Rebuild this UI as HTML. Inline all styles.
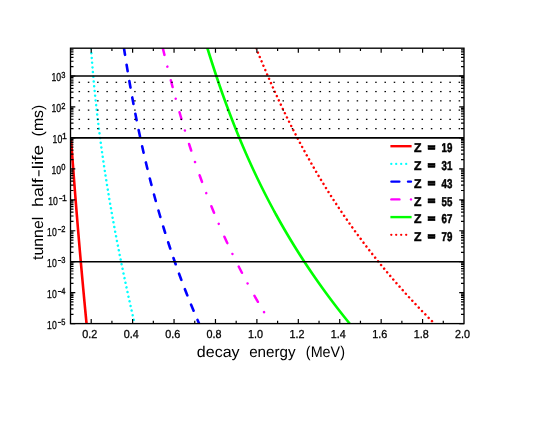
<!DOCTYPE html><html><head><meta charset="utf-8"><style>html,body{margin:0;padding:0;background:#fff}svg{display:block}text{font-family:"Liberation Sans",sans-serif;fill:#000;text-rendering:geometricPrecision}.t{filter:grayscale(1)}</style></head><body>
<svg width="550" height="425" viewBox="0 0 550 425">
<rect width="550" height="425" fill="#fff"/>
<defs><clipPath id="c"><rect x="70.5" y="48.2" width="393.5" height="275.40000000000003"/></clipPath></defs>
<g clip-path="url(#c)" fill="none" stroke-linejoin="round">
<path d="M71.08,139.5 L71.15,140.5 L71.22,141.5 L71.29,142.5 L71.36,143.5 L71.44,144.5 L71.51,145.5 L71.58,146.5 L71.65,147.5 L71.72,148.5 L71.79,149.5 L71.87,150.5 L71.94,151.5 L72.01,152.5 L72.09,153.5 L72.16,154.5 L72.23,155.5 L72.30,156.5 L72.38,157.5 L72.45,158.5 L72.52,159.5 L72.60,160.5 L72.67,161.5 L72.75,162.5 L72.82,163.5 L72.90,164.5 L72.97,165.5 L73.04,166.5 L73.12,167.5 L73.19,168.5 L73.27,169.5 L73.34,170.5 L73.42,171.5 L73.50,172.5 L73.57,173.5 L73.65,174.5 L73.72,175.5 L73.80,176.5 L73.88,177.5 L73.95,178.5 L74.03,179.5 L74.10,180.5 L74.18,181.5 L74.26,182.5 L74.34,183.5 L74.41,184.5 L74.49,185.5 L74.57,186.5 L74.65,187.5 L74.72,188.5 L74.80,189.5 L74.88,190.5 L74.96,191.5 L75.04,192.5 L75.11,193.5 L75.19,194.5 L75.27,195.5 L75.35,196.5 L75.43,197.5 L75.51,198.5 L75.59,199.5 L75.67,200.5 L75.75,201.5 L75.83,202.5 L75.91,203.5 L75.99,204.5 L76.07,205.5 L76.15,206.5 L76.23,207.5 L76.31,208.5 L76.39,209.5 L76.47,210.5 L76.55,211.5 L76.63,212.5 L76.71,213.5 L76.80,214.5 L76.88,215.5 L76.96,216.5 L77.04,217.5 L77.12,218.5 L77.21,219.5 L77.29,220.5 L77.37,221.5 L77.45,222.5 L77.54,223.5 L77.62,224.5 L77.70,225.5 L77.78,226.5 L77.87,227.5 L77.95,228.5 L78.04,229.5 L78.12,230.5 L78.20,231.5 L78.29,232.5 L78.37,233.5 L78.46,234.5 L78.54,235.5 L78.62,236.5 L78.71,237.5 L78.79,238.5 L78.88,239.5 L78.96,240.5 L79.05,241.5 L79.14,242.5 L79.22,243.5 L79.31,244.5 L79.39,245.5 L79.48,246.5 L79.57,247.5 L79.65,248.5 L79.74,249.5 L79.82,250.5 L79.91,251.5 L80.00,252.5 L80.09,253.5 L80.17,254.5 L80.26,255.5 L80.35,256.5 L80.44,257.5 L80.52,258.5 L80.61,259.5 L80.70,260.5 L80.79,261.5 L80.88,262.5 L80.96,263.5 L81.05,264.5 L81.14,265.5 L81.23,266.5 L81.32,267.5 L81.41,268.5 L81.50,269.5 L81.59,270.5 L81.68,271.5 L81.77,272.5 L81.86,273.5 L81.95,274.5 L82.04,275.5 L82.13,276.5 L82.22,277.5 L82.31,278.5 L82.40,279.5 L82.49,280.5 L82.58,281.5 L82.67,282.5 L82.76,283.5 L82.86,284.5 L82.95,285.5 L83.04,286.5 L83.13,287.5 L83.22,288.5 L83.32,289.5 L83.41,290.5 L83.50,291.5 L83.59,292.5 L83.69,293.5 L83.78,294.5 L83.87,295.5 L83.96,296.5 L84.06,297.5 L84.15,298.5 L84.25,299.5 L84.34,300.5 L84.43,301.5 L84.53,302.5 L84.62,303.5 L84.72,304.5 L84.81,305.5 L84.90,306.5 L85.00,307.5 L85.09,308.5 L85.19,309.5 L85.28,310.5 L85.38,311.5 L85.48,312.5 L85.57,313.5 L85.67,314.5 L85.76,315.5 L85.86,316.5 L85.96,317.5 L86.05,318.5 L86.15,319.5 L86.24,320.5 L86.34,321.5 L86.44,322.5 L86.54,323.5 L86.63,324.5 L86.73,325.5 L86.83,326.5 L86.93,327.5 L87.02,328.5 L87.12,329.5 L87.22,330.5 L87.32,331.5 L87.42,332.5 L87.51,333.5 L87.61,334.5 L87.71,335.5" stroke="#ff0000" stroke-width="2.6"/>
<path d="M89.92,30.0 L89.98,31.0 L90.04,32.0 L90.09,33.0 L90.15,34.0 L90.21,35.0 L90.27,36.0 L90.32,37.0 L90.39,38.0 L90.45,39.0 L90.51,40.0 L90.57,41.0 L90.63,42.0 L90.70,43.0 L90.76,44.0 L90.83,45.0 L90.89,46.0 L90.96,47.0 L91.03,48.0 L91.10,49.0 L91.17,50.0 L91.24,51.0 L91.31,52.0 L91.38,53.0 L91.45,54.0 L91.53,55.0 L91.60,56.0 L91.68,57.0 L91.75,58.0 L91.83,59.0 L91.90,60.0 L91.98,61.0 L92.06,62.0 L92.14,63.0 L92.22,64.0 L92.30,65.0 L92.38,66.0 L92.46,67.0 L92.55,68.0 L92.63,69.0 L92.71,70.0 L92.80,71.0 L92.89,72.0 L92.97,73.0 L93.06,74.0 L93.15,75.0 L93.24,76.0 L93.33,77.0 L93.42,78.0 L93.51,79.0 L93.60,80.0 L93.69,81.0 L93.78,82.0 L93.88,83.0 L93.97,84.0 L94.07,85.0 L94.16,86.0 L94.26,87.0 L94.36,88.0 L94.46,89.0 L94.56,90.0 L94.65,91.0 L94.76,92.0 L94.86,93.0 L94.96,94.0 L95.06,95.0 L95.16,96.0 L95.27,97.0 L95.37,98.0 L95.48,99.0 L95.58,100.0 L95.69,101.0 L95.80,102.0 L95.90,103.0 L96.01,104.0 L96.12,105.0 L96.23,106.0 L96.34,107.0 L96.46,108.0 L96.57,109.0 L96.68,110.0 L96.79,111.0 L96.91,112.0 L97.02,113.0 L97.14,114.0 L97.26,115.0 L97.37,116.0 L97.49,117.0 L97.61,118.0 L97.73,119.0 L97.85,120.0 L97.97,121.0 L98.09,122.0 L98.21,123.0 L98.33,124.0 L98.46,125.0 L98.58,126.0 L98.70,127.0 L98.83,128.0 L98.95,129.0 L99.08,130.0 L99.21,131.0 L99.34,132.0 L99.46,133.0 L99.59,134.0 L99.72,135.0 L99.85,136.0 L99.98,137.0 L100.12,138.0 L100.25,139.0 L100.38,140.0 L100.51,141.0 L100.65,142.0 L100.78,143.0 L100.92,144.0 L101.06,145.0 L101.19,146.0 L101.33,147.0 L101.47,148.0 L101.61,149.0 L101.75,150.0 L101.89,151.0 L102.03,152.0 L102.17,153.0 L102.31,154.0 L102.45,155.0 L102.60,156.0 L102.74,157.0 L102.88,158.0 L103.03,159.0 L103.18,160.0 L103.32,161.0 L103.47,162.0 L103.62,163.0 L103.76,164.0 L103.91,165.0 L104.06,166.0 L104.21,167.0 L104.36,168.0 L104.52,169.0 L104.67,170.0 L104.82,171.0 L104.97,172.0 L105.13,173.0 L105.28,174.0 L105.44,175.0 L105.59,176.0 L105.75,177.0 L105.91,178.0 L106.06,179.0 L106.22,180.0 L106.38,181.0 L106.54,182.0 L106.70,183.0 L106.86,184.0 L107.02,185.0 L107.18,186.0 L107.35,187.0 L107.51,188.0 L107.67,189.0 L107.84,190.0 L108.00,191.0 L108.17,192.0 L108.33,193.0 L108.50,194.0 L108.67,195.0 L108.83,196.0 L109.00,197.0 L109.17,198.0 L109.34,199.0 L109.51,200.0 L109.68,201.0 L109.85,202.0 L110.02,203.0 L110.20,204.0 L110.37,205.0 L110.54,206.0 L110.72,207.0 L110.89,208.0 L111.07,209.0 L111.24,210.0 L111.42,211.0 L111.59,212.0 L111.77,213.0 L111.95,214.0 L112.13,215.0 L112.31,216.0 L112.49,217.0 L112.67,218.0 L112.85,219.0 L113.03,220.0 L113.21,221.0 L113.39,222.0 L113.58,223.0 L113.76,224.0 L113.95,225.0 L114.13,226.0 L114.32,227.0 L114.50,228.0 L114.69,229.0 L114.87,230.0 L115.06,231.0 L115.25,232.0 L115.44,233.0 L115.63,234.0 L115.82,235.0 L116.01,236.0 L116.20,237.0 L116.39,238.0 L116.58,239.0 L116.77,240.0 L116.97,241.0 L117.16,242.0 L117.35,243.0 L117.55,244.0 L117.74,245.0 L117.94,246.0 L118.13,247.0 L118.33,248.0 L118.53,249.0 L118.73,250.0 L118.92,251.0 L119.12,252.0 L119.32,253.0 L119.52,254.0 L119.72,255.0 L119.92,256.0 L120.12,257.0 L120.32,258.0 L120.53,259.0 L120.73,260.0 L120.93,261.0 L121.14,262.0 L121.34,263.0 L121.55,264.0 L121.75,265.0 L121.96,266.0 L122.16,267.0 L122.37,268.0 L122.58,269.0 L122.79,270.0 L122.99,271.0 L123.20,272.0 L123.41,273.0 L123.62,274.0 L123.83,275.0 L124.04,276.0 L124.25,277.0 L124.47,278.0 L124.68,279.0 L124.89,280.0 L125.10,281.0 L125.32,282.0 L125.53,283.0 L125.75,284.0 L125.96,285.0 L126.18,286.0 L126.39,287.0 L126.61,288.0 L126.83,289.0 L127.04,290.0 L127.26,291.0 L127.48,292.0 L127.70,293.0 L127.92,294.0 L128.14,295.0 L128.36,296.0 L128.58,297.0 L128.80,298.0 L129.02,299.0 L129.25,300.0 L129.47,301.0 L129.69,302.0 L129.92,303.0 L130.14,304.0 L130.36,305.0 L130.59,306.0 L130.81,307.0 L131.04,308.0 L131.27,309.0 L131.49,310.0 L131.72,311.0 L131.95,312.0 L132.18,313.0 L132.40,314.0 L132.63,315.0 L132.86,316.0 L133.09,317.0 L133.32,318.0 L133.55,319.0 L133.79,320.0 L134.02,321.0 L134.25,322.0 L134.48,323.0 L134.72,324.0 L134.95,325.0 L135.18,326.0 L135.42,327.0 L135.65,328.0 L135.89,329.0 L136.12,330.0 L136.36,331.0 L136.59,332.0 L136.83,333.0 L137.07,334.0 L137.31,335.0" stroke="#00ffff" stroke-width="2.5" stroke-linecap="round" stroke-dasharray="0.01 4.73" stroke-dashoffset="-4.29"/>
<path d="M121.26,30.0 L121.40,31.0 L121.55,32.0 L121.70,33.0 L121.84,34.0 L121.99,35.0 L122.14,36.0 L122.29,37.0 L122.43,38.0 L122.58,39.0 L122.73,40.0 L122.88,41.0 L123.03,42.0 L123.18,43.0 L123.34,44.0 L123.49,45.0 L123.64,46.0 L123.79,47.0 L123.95,48.0 L124.10,49.0 L124.26,50.0 L124.41,51.0 L124.57,52.0 L124.72,53.0 L124.88,54.0 L125.04,55.0 L125.19,56.0 L125.35,57.0 L125.51,58.0 L125.67,59.0 L125.83,60.0 L125.99,61.0 L126.15,62.0 L126.31,63.0 L126.48,64.0 L126.64,65.0 L126.80,66.0 L126.97,67.0 L127.13,68.0 L127.30,69.0 L127.46,70.0 L127.63,71.0 L127.80,72.0 L127.96,73.0 L128.13,74.0 L128.30,75.0 L128.47,76.0 L128.64,77.0 L128.81,78.0 L128.98,79.0 L129.15,80.0 L129.33,81.0 L129.50,82.0 L129.67,83.0 L129.85,84.0 L130.02,85.0 L130.20,86.0 L130.38,87.0 L130.55,88.0 L130.73,89.0 L130.91,90.0 L131.09,91.0 L131.27,92.0 L131.45,93.0 L131.63,94.0 L131.81,95.0 L132.00,96.0 L132.18,97.0 L132.36,98.0 L132.55,99.0 L132.73,100.0 L132.92,101.0 L133.11,102.0 L133.29,103.0 L133.48,104.0 L133.67,105.0 L133.86,106.0 L134.05,107.0 L134.24,108.0 L134.43,109.0 L134.63,110.0 L134.82,111.0 L135.01,112.0 L135.21,113.0 L135.41,114.0 L135.60,115.0 L135.80,116.0 L136.00,117.0 L136.20,118.0 L136.40,119.0 L136.60,120.0 L136.80,121.0 L137.00,122.0 L137.20,123.0 L137.41,124.0 L137.61,125.0 L137.81,126.0 L138.02,127.0 L138.23,128.0 L138.44,129.0 L138.64,130.0 L138.85,131.0 L139.06,132.0 L139.27,133.0 L139.49,134.0 L139.70,135.0 L139.91,136.0 L140.13,137.0 L140.34,138.0 L140.56,139.0 L140.77,140.0 L140.99,141.0 L141.21,142.0 L141.43,143.0 L141.65,144.0 L141.87,145.0 L142.09,146.0 L142.32,147.0 L142.54,148.0 L142.77,149.0 L142.99,150.0 L143.22,151.0 L143.45,152.0 L143.67,153.0 L143.90,154.0 L144.13,155.0 L144.36,156.0 L144.60,157.0 L144.83,158.0 L145.06,159.0 L145.30,160.0 L145.53,161.0 L145.77,162.0 L146.01,163.0 L146.25,164.0 L146.49,165.0 L146.73,166.0 L146.97,167.0 L147.21,168.0 L147.45,169.0 L147.70,170.0 L147.94,171.0 L148.19,172.0 L148.44,173.0 L148.69,174.0 L148.94,175.0 L149.19,176.0 L149.44,177.0 L149.69,178.0 L149.94,179.0 L150.20,180.0 L150.45,181.0 L150.71,182.0 L150.97,183.0 L151.23,184.0 L151.49,185.0 L151.75,186.0 L152.01,187.0 L152.27,188.0 L152.53,189.0 L152.80,190.0 L153.06,191.0 L153.33,192.0 L153.60,193.0 L153.87,194.0 L154.14,195.0 L154.41,196.0 L154.68,197.0 L154.95,198.0 L155.23,199.0 L155.50,200.0 L155.78,201.0 L156.06,202.0 L156.34,203.0 L156.62,204.0 L156.90,205.0 L157.18,206.0 L157.46,207.0 L157.75,208.0 L158.03,209.0 L158.32,210.0 L158.61,211.0 L158.89,212.0 L159.18,213.0 L159.48,214.0 L159.77,215.0 L160.06,216.0 L160.36,217.0 L160.65,218.0 L160.95,219.0 L161.25,220.0 L161.54,221.0 L161.84,222.0 L162.15,223.0 L162.45,224.0 L162.75,225.0 L163.06,226.0 L163.36,227.0 L163.67,228.0 L163.98,229.0 L164.29,230.0 L164.60,231.0 L164.91,232.0 L165.23,233.0 L165.54,234.0 L165.86,235.0 L166.17,236.0 L166.49,237.0 L166.81,238.0 L167.13,239.0 L167.45,240.0 L167.78,241.0 L168.10,242.0 L168.43,243.0 L168.75,244.0 L169.08,245.0 L169.41,246.0 L169.74,247.0 L170.07,248.0 L170.41,249.0 L170.74,250.0 L171.08,251.0 L171.41,252.0 L171.75,253.0 L172.09,254.0 L172.43,255.0 L172.78,256.0 L173.12,257.0 L173.46,258.0 L173.81,259.0 L174.16,260.0 L174.51,261.0 L174.86,262.0 L175.21,263.0 L175.56,264.0 L175.92,265.0 L176.27,266.0 L176.63,267.0 L176.99,268.0 L177.35,269.0 L177.71,270.0 L178.07,271.0 L178.43,272.0 L178.80,273.0 L179.16,274.0 L179.53,275.0 L179.90,276.0 L180.27,277.0 L180.64,278.0 L181.01,279.0 L181.39,280.0 L181.77,281.0 L182.14,282.0 L182.52,283.0 L182.90,284.0 L183.28,285.0 L183.67,286.0 L184.05,287.0 L184.44,288.0 L184.82,289.0 L185.21,290.0 L185.60,291.0 L185.99,292.0 L186.39,293.0 L186.78,294.0 L187.18,295.0 L187.57,296.0 L187.97,297.0 L188.37,298.0 L188.77,299.0 L189.18,300.0 L189.58,301.0 L189.99,302.0 L190.40,303.0 L190.80,304.0 L191.22,305.0 L191.63,306.0 L192.04,307.0 L192.46,308.0 L192.87,309.0 L193.29,310.0 L193.71,311.0 L194.13,312.0 L194.55,313.0 L194.98,314.0 L195.40,315.0 L195.83,316.0 L196.26,317.0 L196.69,318.0 L197.12,319.0 L197.55,320.0 L197.99,321.0 L198.42,322.0 L198.86,323.0 L199.30,324.0 L199.74,325.0 L200.18,326.0 L200.63,327.0 L201.07,328.0 L201.52,329.0 L201.97,330.0 L202.42,331.0 L202.87,332.0 L203.33,333.0 L203.78,334.0 L204.24,335.0" stroke="#0000ff" stroke-width="2.6" stroke-linecap="round" stroke-dasharray="6.6 10.0" stroke-dashoffset="-1.91"/>
<path d="M158.55,30.0 L158.78,31.0 L159.01,32.0 L159.25,33.0 L159.48,34.0 L159.71,35.0 L159.95,36.0 L160.18,37.0 L160.42,38.0 L160.65,39.0 L160.89,40.0 L161.12,41.0 L161.36,42.0 L161.60,43.0 L161.83,44.0 L162.07,45.0 L162.31,46.0 L162.55,47.0 L162.79,48.0 L163.03,49.0 L163.27,50.0 L163.51,51.0 L163.75,52.0 L163.99,53.0 L164.24,54.0 L164.48,55.0 L164.72,56.0 L164.97,57.0 L165.21,58.0 L165.46,59.0 L165.70,60.0 L165.95,61.0 L166.20,62.0 L166.44,63.0 L166.69,64.0 L166.94,65.0 L167.19,66.0 L167.44,67.0 L167.69,68.0 L167.94,69.0 L168.20,70.0 L168.45,71.0 L168.70,72.0 L168.95,73.0 L169.21,74.0 L169.46,75.0 L169.72,76.0 L169.98,77.0 L170.23,78.0 L170.49,79.0 L170.75,80.0 L171.01,81.0 L171.27,82.0 L171.53,83.0 L171.79,84.0 L172.06,85.0 L172.32,86.0 L172.58,87.0 L172.85,88.0 L173.11,89.0 L173.38,90.0 L173.65,91.0 L173.91,92.0 L174.18,93.0 L174.45,94.0 L174.72,95.0 L174.99,96.0 L175.26,97.0 L175.54,98.0 L175.81,99.0 L176.08,100.0 L176.36,101.0 L176.64,102.0 L176.91,103.0 L177.19,104.0 L177.47,105.0 L177.75,106.0 L178.03,107.0 L178.31,108.0 L178.59,109.0 L178.87,110.0 L179.16,111.0 L179.44,112.0 L179.73,113.0 L180.02,114.0 L180.30,115.0 L180.59,116.0 L180.88,117.0 L181.17,118.0 L181.46,119.0 L181.76,120.0 L182.05,121.0 L182.34,122.0 L182.64,123.0 L182.94,124.0 L183.23,125.0 L183.53,126.0 L183.83,127.0 L184.13,128.0 L184.43,129.0 L184.74,130.0 L185.04,131.0 L185.34,132.0 L185.65,133.0 L185.96,134.0 L186.26,135.0 L186.57,136.0 L186.88,137.0 L187.19,138.0 L187.51,139.0 L187.82,140.0 L188.13,141.0 L188.45,142.0 L188.77,143.0 L189.08,144.0 L189.40,145.0 L189.72,146.0 L190.04,147.0 L190.37,148.0 L190.69,149.0 L191.02,150.0 L191.34,151.0 L191.67,152.0 L192.00,153.0 L192.33,154.0 L192.66,155.0 L192.99,156.0 L193.32,157.0 L193.66,158.0 L193.99,159.0 L194.33,160.0 L194.67,161.0 L195.01,162.0 L195.35,163.0 L195.69,164.0 L196.03,165.0 L196.38,166.0 L196.72,167.0 L197.07,168.0 L197.42,169.0 L197.77,170.0 L198.12,171.0 L198.47,172.0 L198.82,173.0 L199.18,174.0 L199.54,175.0 L199.89,176.0 L200.25,177.0 L200.61,178.0 L200.97,179.0 L201.34,180.0 L201.70,181.0 L202.07,182.0 L202.43,183.0 L202.80,184.0 L203.17,185.0 L203.54,186.0 L203.92,187.0 L204.29,188.0 L204.67,189.0 L205.04,190.0 L205.42,191.0 L205.80,192.0 L206.19,193.0 L206.57,194.0 L206.95,195.0 L207.34,196.0 L207.73,197.0 L208.11,198.0 L208.51,199.0 L208.90,200.0 L209.29,201.0 L209.69,202.0 L210.08,203.0 L210.48,204.0 L210.88,205.0 L211.28,206.0 L211.68,207.0 L212.09,208.0 L212.49,209.0 L212.90,210.0 L213.31,211.0 L213.72,212.0 L214.13,213.0 L214.55,214.0 L214.96,215.0 L215.38,216.0 L215.80,217.0 L216.22,218.0 L216.64,219.0 L217.06,220.0 L217.49,221.0 L217.92,222.0 L218.34,223.0 L218.77,224.0 L219.21,225.0 L219.64,226.0 L220.07,227.0 L220.51,228.0 L220.95,229.0 L221.39,230.0 L221.83,231.0 L222.28,232.0 L222.72,233.0 L223.17,234.0 L223.62,235.0 L224.07,236.0 L224.52,237.0 L224.98,238.0 L225.43,239.0 L225.89,240.0 L226.35,241.0 L226.81,242.0 L227.27,243.0 L227.74,244.0 L228.20,245.0 L228.67,246.0 L229.14,247.0 L229.62,248.0 L230.09,249.0 L230.57,250.0 L231.04,251.0 L231.52,252.0 L232.00,253.0 L232.49,254.0 L232.97,255.0 L233.46,256.0 L233.95,257.0 L234.44,258.0 L234.93,259.0 L235.43,260.0 L235.92,261.0 L236.42,262.0 L236.92,263.0 L237.43,264.0 L237.93,265.0 L238.44,266.0 L238.94,267.0 L239.45,268.0 L239.97,269.0 L240.48,270.0 L241.00,271.0 L241.51,272.0 L242.03,273.0 L242.56,274.0 L243.08,275.0 L243.61,276.0 L244.14,277.0 L244.67,278.0 L245.20,279.0 L245.73,280.0 L246.27,281.0 L246.81,282.0 L247.35,283.0 L247.89,284.0 L248.43,285.0 L248.98,286.0 L249.53,287.0 L250.08,288.0 L250.63,289.0 L251.19,290.0 L251.75,291.0 L252.30,292.0 L252.87,293.0 L253.43,294.0 L254.00,295.0 L254.56,296.0 L255.13,297.0 L255.71,298.0 L256.28,299.0 L256.86,300.0 L257.43,301.0 L258.02,302.0 L258.60,303.0 L259.18,304.0 L259.77,305.0 L260.36,306.0 L260.95,307.0 L261.55,308.0 L262.14,309.0 L262.74,310.0 L263.34,311.0 L263.95,312.0 L264.55,313.0 L265.16,314.0 L265.77,315.0 L266.38,316.0 L267.00,317.0 L267.61,318.0 L268.23,319.0 L268.85,320.0" stroke="#ff00ff" stroke-width="2.5" stroke-linecap="round" stroke-dasharray="7 12.05 0.01 14.06" stroke-dashoffset="-18.6"/>
<path d="M201.95,30.0 L202.25,31.0 L202.54,32.0 L202.84,33.0 L203.13,34.0 L203.43,35.0 L203.73,36.0 L204.03,37.0 L204.33,38.0 L204.63,39.0 L204.93,40.0 L205.23,41.0 L205.53,42.0 L205.83,43.0 L206.14,44.0 L206.44,45.0 L206.75,46.0 L207.05,47.0 L207.36,48.0 L207.67,49.0 L207.98,50.0 L208.29,51.0 L208.60,52.0 L208.91,53.0 L209.22,54.0 L209.54,55.0 L209.85,56.0 L210.17,57.0 L210.48,58.0 L210.80,59.0 L211.12,60.0 L211.44,61.0 L211.76,62.0 L212.08,63.0 L212.40,64.0 L212.72,65.0 L213.05,66.0 L213.37,67.0 L213.70,68.0 L214.03,69.0 L214.35,70.0 L214.68,71.0 L215.01,72.0 L215.34,73.0 L215.68,74.0 L216.01,75.0 L216.34,76.0 L216.68,77.0 L217.01,78.0 L217.35,79.0 L217.69,80.0 L218.03,81.0 L218.37,82.0 L218.71,83.0 L219.05,84.0 L219.40,85.0 L219.74,86.0 L220.09,87.0 L220.44,88.0 L220.78,89.0 L221.13,90.0 L221.48,91.0 L221.84,92.0 L222.19,93.0 L222.54,94.0 L222.90,95.0 L223.26,96.0 L223.61,97.0 L223.97,98.0 L224.33,99.0 L224.69,100.0 L225.06,101.0 L225.42,102.0 L225.79,103.0 L226.15,104.0 L226.52,105.0 L226.89,106.0 L227.26,107.0 L227.63,108.0 L228.00,109.0 L228.38,110.0 L228.75,111.0 L229.13,112.0 L229.51,113.0 L229.89,114.0 L230.27,115.0 L230.65,116.0 L231.03,117.0 L231.42,118.0 L231.80,119.0 L232.19,120.0 L232.58,121.0 L232.97,122.0 L233.36,123.0 L233.75,124.0 L234.15,125.0 L234.54,126.0 L234.94,127.0 L235.34,128.0 L235.74,129.0 L236.14,130.0 L236.54,131.0 L236.95,132.0 L237.35,133.0 L237.76,134.0 L238.17,135.0 L238.58,136.0 L238.99,137.0 L239.40,138.0 L239.82,139.0 L240.23,140.0 L240.65,141.0 L241.07,142.0 L241.49,143.0 L241.91,144.0 L242.34,145.0 L242.76,146.0 L243.19,147.0 L243.62,148.0 L244.05,149.0 L244.48,150.0 L244.91,151.0 L245.35,152.0 L245.78,153.0 L246.22,154.0 L246.66,155.0 L247.10,156.0 L247.54,157.0 L247.99,158.0 L248.43,159.0 L248.88,160.0 L249.33,161.0 L249.78,162.0 L250.24,163.0 L250.69,164.0 L251.15,165.0 L251.60,166.0 L252.06,167.0 L252.52,168.0 L252.99,169.0 L253.45,170.0 L253.92,171.0 L254.39,172.0 L254.86,173.0 L255.33,174.0 L255.80,175.0 L256.28,176.0 L256.75,177.0 L257.23,178.0 L257.71,179.0 L258.20,180.0 L258.68,181.0 L259.17,182.0 L259.65,183.0 L260.14,184.0 L260.63,185.0 L261.13,186.0 L261.62,187.0 L262.12,188.0 L262.62,189.0 L263.12,190.0 L263.62,191.0 L264.13,192.0 L264.63,193.0 L265.14,194.0 L265.65,195.0 L266.16,196.0 L266.68,197.0 L267.19,198.0 L267.71,199.0 L268.23,200.0 L268.75,201.0 L269.27,202.0 L269.80,203.0 L270.33,204.0 L270.86,205.0 L271.39,206.0 L271.92,207.0 L272.46,208.0 L272.99,209.0 L273.53,210.0 L274.07,211.0 L274.62,212.0 L275.16,213.0 L275.71,214.0 L276.26,215.0 L276.81,216.0 L277.37,217.0 L277.92,218.0 L278.48,219.0 L279.04,220.0 L279.60,221.0 L280.17,222.0 L280.73,223.0 L281.30,224.0 L281.87,225.0 L282.44,226.0 L283.02,227.0 L283.59,228.0 L284.17,229.0 L284.75,230.0 L285.34,231.0 L285.92,232.0 L286.51,233.0 L287.10,234.0 L287.69,235.0 L288.29,236.0 L288.88,237.0 L289.48,238.0 L290.08,239.0 L290.68,240.0 L291.29,241.0 L291.90,242.0 L292.51,243.0 L293.12,244.0 L293.73,245.0 L294.35,246.0 L294.97,247.0 L295.59,248.0 L296.21,249.0 L296.84,250.0 L297.47,251.0 L298.10,252.0 L298.73,253.0 L299.36,254.0 L300.00,255.0 L300.64,256.0 L301.28,257.0 L301.93,258.0 L302.57,259.0 L303.22,260.0 L303.87,261.0 L304.53,262.0 L305.18,263.0 L305.84,264.0 L306.50,265.0 L307.17,266.0 L307.83,267.0 L308.50,268.0 L309.17,269.0 L309.84,270.0 L310.52,271.0 L311.20,272.0 L311.88,273.0 L312.56,274.0 L313.25,275.0 L313.93,276.0 L314.62,277.0 L315.32,278.0 L316.01,279.0 L316.71,280.0 L317.41,281.0 L318.11,282.0 L318.82,283.0 L319.53,284.0 L320.24,285.0 L320.95,286.0 L321.66,287.0 L322.38,288.0 L323.10,289.0 L323.83,290.0 L324.55,291.0 L325.28,292.0 L326.01,293.0 L326.75,294.0 L327.48,295.0 L328.22,296.0 L328.96,297.0 L329.71,298.0 L330.45,299.0 L331.20,300.0 L331.96,301.0 L332.71,302.0 L333.47,303.0 L334.23,304.0 L334.99,305.0 L335.76,306.0 L336.52,307.0 L337.30,308.0 L338.07,309.0 L338.85,310.0 L339.62,311.0 L340.41,312.0 L341.19,313.0 L341.98,314.0 L342.77,315.0 L343.56,316.0 L344.36,317.0 L345.16,318.0 L345.96,319.0 L346.76,320.0 L347.57,321.0 L348.38,322.0 L349.19,323.0 L350.00,324.0 L350.82,325.0 L351.64,326.0 L352.47,327.0 L353.29,328.0 L354.12,329.0 L354.96,330.0 L355.79,331.0 L356.63,332.0 L357.47,333.0 L358.31,334.0 L359.16,335.0" stroke="#00ff00" stroke-width="2.6"/>
<path d="M248.88,30.0 L249.27,31.0 L249.66,32.0 L250.06,33.0 L250.45,34.0 L250.85,35.0 L251.24,36.0 L251.64,37.0 L252.04,38.0 L252.44,39.0 L252.84,40.0 L253.24,41.0 L253.64,42.0 L254.04,43.0 L254.44,44.0 L254.85,45.0 L255.25,46.0 L255.66,47.0 L256.06,48.0 L256.47,49.0 L256.88,50.0 L257.29,51.0 L257.70,52.0 L258.11,53.0 L258.52,54.0 L258.93,55.0 L259.35,56.0 L259.76,57.0 L260.18,58.0 L260.59,59.0 L261.01,60.0 L261.43,61.0 L261.85,62.0 L262.27,63.0 L262.69,64.0 L263.11,65.0 L263.54,66.0 L263.96,67.0 L264.39,68.0 L264.82,69.0 L265.24,70.0 L265.67,71.0 L266.10,72.0 L266.54,73.0 L266.97,74.0 L267.40,75.0 L267.84,76.0 L268.27,77.0 L268.71,78.0 L269.15,79.0 L269.59,80.0 L270.03,81.0 L270.47,82.0 L270.91,83.0 L271.36,84.0 L271.80,85.0 L272.25,86.0 L272.70,87.0 L273.15,88.0 L273.60,89.0 L274.05,90.0 L274.50,91.0 L274.96,92.0 L275.41,93.0 L275.87,94.0 L276.33,95.0 L276.79,96.0 L277.25,97.0 L277.71,98.0 L278.17,99.0 L278.64,100.0 L279.10,101.0 L279.57,102.0 L280.04,103.0 L280.51,104.0 L280.98,105.0 L281.46,106.0 L281.93,107.0 L282.41,108.0 L282.89,109.0 L283.37,110.0 L283.85,111.0 L284.33,112.0 L284.81,113.0 L285.30,114.0 L285.78,115.0 L286.27,116.0 L286.76,117.0 L287.25,118.0 L287.74,119.0 L288.24,120.0 L288.74,121.0 L289.23,122.0 L289.73,123.0 L290.23,124.0 L290.73,125.0 L291.24,126.0 L291.74,127.0 L292.25,128.0 L292.76,129.0 L293.27,130.0 L293.78,131.0 L294.29,132.0 L294.81,133.0 L295.33,134.0 L295.85,135.0 L296.37,136.0 L296.89,137.0 L297.41,138.0 L297.94,139.0 L298.46,140.0 L298.99,141.0 L299.52,142.0 L300.06,143.0 L300.59,144.0 L301.13,145.0 L301.66,146.0 L302.20,147.0 L302.74,148.0 L303.29,149.0 L303.83,150.0 L304.38,151.0 L304.93,152.0 L305.48,153.0 L306.03,154.0 L306.59,155.0 L307.14,156.0 L307.70,157.0 L308.26,158.0 L308.82,159.0 L309.39,160.0 L309.95,161.0 L310.52,162.0 L311.09,163.0 L311.66,164.0 L312.23,165.0 L312.81,166.0 L313.39,167.0 L313.97,168.0 L314.55,169.0 L315.13,170.0 L315.72,171.0 L316.31,172.0 L316.90,173.0 L317.49,174.0 L318.08,175.0 L318.68,176.0 L319.27,177.0 L319.87,178.0 L320.48,179.0 L321.08,180.0 L321.69,181.0 L322.30,182.0 L322.91,183.0 L323.52,184.0 L324.13,185.0 L324.75,186.0 L325.37,187.0 L325.99,188.0 L326.61,189.0 L327.24,190.0 L327.87,191.0 L328.50,192.0 L329.13,193.0 L329.77,194.0 L330.40,195.0 L331.04,196.0 L331.68,197.0 L332.33,198.0 L332.97,199.0 L333.62,200.0 L334.27,201.0 L334.92,202.0 L335.58,203.0 L336.24,204.0 L336.90,205.0 L337.56,206.0 L338.22,207.0 L338.89,208.0 L339.56,209.0 L340.23,210.0 L340.91,211.0 L341.58,212.0 L342.26,213.0 L342.94,214.0 L343.63,215.0 L344.31,216.0 L345.00,217.0 L345.69,218.0 L346.39,219.0 L347.08,220.0 L347.78,221.0 L348.48,222.0 L349.19,223.0 L349.89,224.0 L350.60,225.0 L351.31,226.0 L352.02,227.0 L352.74,228.0 L353.46,229.0 L354.18,230.0 L354.91,231.0 L355.63,232.0 L356.36,233.0 L357.09,234.0 L357.83,235.0 L358.56,236.0 L359.30,237.0 L360.05,238.0 L360.79,239.0 L361.54,240.0 L362.29,241.0 L363.04,242.0 L363.80,243.0 L364.56,244.0 L365.32,245.0 L366.08,246.0 L366.85,247.0 L367.62,248.0 L368.39,249.0 L369.16,250.0 L369.94,251.0 L370.72,252.0 L371.50,253.0 L372.29,254.0 L373.08,255.0 L373.87,256.0 L374.66,257.0 L375.46,258.0 L376.26,259.0 L377.06,260.0 L377.87,261.0 L378.68,262.0 L379.49,263.0 L380.30,264.0 L381.12,265.0 L381.94,266.0 L382.76,267.0 L383.59,268.0 L384.42,269.0 L385.25,270.0 L386.08,271.0 L386.92,272.0 L387.76,273.0 L388.61,274.0 L389.45,275.0 L390.30,276.0 L391.15,277.0 L392.01,278.0 L392.87,279.0 L393.73,280.0 L394.60,281.0 L395.46,282.0 L396.33,283.0 L397.21,284.0 L398.08,285.0 L398.96,286.0 L399.85,287.0 L400.73,288.0 L401.62,289.0 L402.52,290.0 L403.41,291.0 L404.31,292.0 L405.21,293.0 L406.12,294.0 L407.03,295.0 L407.94,296.0 L408.85,297.0 L409.77,298.0 L410.69,299.0 L411.62,300.0 L412.54,301.0 L413.47,302.0 L414.41,303.0 L415.34,304.0 L416.29,305.0 L417.23,306.0 L418.18,307.0 L419.13,308.0 L420.08,309.0 L421.04,310.0 L422.00,311.0 L422.96,312.0 L423.93,313.0 L424.90,314.0 L425.87,315.0 L426.85,316.0 L427.83,317.0 L428.81,318.0 L429.80,319.0 L430.79,320.0 L431.79,321.0 L432.78,322.0 L433.78,323.0 L434.79,324.0 L435.80,325.0 L436.81,326.0 L437.82,327.0 L438.84,328.0 L439.86,329.0 L440.89,330.0 L441.92,331.0 L442.95,332.0 L443.98,333.0 L445.02,334.0 L446.07,335.0" stroke="#ff0000" stroke-width="2.5" stroke-linecap="round" stroke-dasharray="0.01 4.73" stroke-dashoffset="-0.65"/>
</g>
<g fill="#000"><rect x="78.55" y="81.68" width="1.5" height="1.25"/><rect x="87.82" y="81.68" width="1.5" height="1.25"/><rect x="97.09" y="81.68" width="1.5" height="1.25"/><rect x="106.36" y="81.68" width="1.5" height="1.25"/><rect x="115.63" y="81.68" width="1.5" height="1.25"/><rect x="124.90" y="81.68" width="1.5" height="1.25"/><rect x="134.17" y="81.68" width="1.5" height="1.25"/><rect x="143.44" y="81.68" width="1.5" height="1.25"/><rect x="152.71" y="81.68" width="1.5" height="1.25"/><rect x="161.98" y="81.68" width="1.5" height="1.25"/><rect x="171.25" y="81.68" width="1.5" height="1.25"/><rect x="180.52" y="81.68" width="1.5" height="1.25"/><rect x="189.79" y="81.68" width="1.5" height="1.25"/><rect x="199.06" y="81.68" width="1.5" height="1.25"/><rect x="208.33" y="81.68" width="1.5" height="1.25"/><rect x="217.60" y="81.68" width="1.5" height="1.25"/><rect x="226.87" y="81.68" width="1.5" height="1.25"/><rect x="236.14" y="81.68" width="1.5" height="1.25"/><rect x="245.41" y="81.68" width="1.5" height="1.25"/><rect x="254.68" y="81.68" width="1.5" height="1.25"/><rect x="263.95" y="81.68" width="1.5" height="1.25"/><rect x="273.22" y="81.68" width="1.5" height="1.25"/><rect x="282.49" y="81.68" width="1.5" height="1.25"/><rect x="291.76" y="81.68" width="1.5" height="1.25"/><rect x="301.03" y="81.68" width="1.5" height="1.25"/><rect x="310.30" y="81.68" width="1.5" height="1.25"/><rect x="319.57" y="81.68" width="1.5" height="1.25"/><rect x="328.84" y="81.68" width="1.5" height="1.25"/><rect x="338.11" y="81.68" width="1.5" height="1.25"/><rect x="347.38" y="81.68" width="1.5" height="1.25"/><rect x="356.65" y="81.68" width="1.5" height="1.25"/><rect x="365.92" y="81.68" width="1.5" height="1.25"/><rect x="375.19" y="81.68" width="1.5" height="1.25"/><rect x="384.46" y="81.68" width="1.5" height="1.25"/><rect x="393.73" y="81.68" width="1.5" height="1.25"/><rect x="403.00" y="81.68" width="1.5" height="1.25"/><rect x="412.27" y="81.68" width="1.5" height="1.25"/><rect x="421.54" y="81.68" width="1.5" height="1.25"/><rect x="430.81" y="81.68" width="1.5" height="1.25"/><rect x="440.08" y="81.68" width="1.5" height="1.25"/><rect x="449.35" y="81.68" width="1.5" height="1.25"/><rect x="458.62" y="81.68" width="1.5" height="1.25"/><rect x="78.55" y="90.95" width="1.5" height="1.25"/><rect x="87.82" y="90.95" width="1.5" height="1.25"/><rect x="97.09" y="90.95" width="1.5" height="1.25"/><rect x="106.36" y="90.95" width="1.5" height="1.25"/><rect x="115.63" y="90.95" width="1.5" height="1.25"/><rect x="124.90" y="90.95" width="1.5" height="1.25"/><rect x="134.17" y="90.95" width="1.5" height="1.25"/><rect x="143.44" y="90.95" width="1.5" height="1.25"/><rect x="152.71" y="90.95" width="1.5" height="1.25"/><rect x="161.98" y="90.95" width="1.5" height="1.25"/><rect x="171.25" y="90.95" width="1.5" height="1.25"/><rect x="180.52" y="90.95" width="1.5" height="1.25"/><rect x="189.79" y="90.95" width="1.5" height="1.25"/><rect x="199.06" y="90.95" width="1.5" height="1.25"/><rect x="208.33" y="90.95" width="1.5" height="1.25"/><rect x="217.60" y="90.95" width="1.5" height="1.25"/><rect x="226.87" y="90.95" width="1.5" height="1.25"/><rect x="236.14" y="90.95" width="1.5" height="1.25"/><rect x="245.41" y="90.95" width="1.5" height="1.25"/><rect x="254.68" y="90.95" width="1.5" height="1.25"/><rect x="263.95" y="90.95" width="1.5" height="1.25"/><rect x="273.22" y="90.95" width="1.5" height="1.25"/><rect x="282.49" y="90.95" width="1.5" height="1.25"/><rect x="291.76" y="90.95" width="1.5" height="1.25"/><rect x="301.03" y="90.95" width="1.5" height="1.25"/><rect x="310.30" y="90.95" width="1.5" height="1.25"/><rect x="319.57" y="90.95" width="1.5" height="1.25"/><rect x="328.84" y="90.95" width="1.5" height="1.25"/><rect x="338.11" y="90.95" width="1.5" height="1.25"/><rect x="347.38" y="90.95" width="1.5" height="1.25"/><rect x="356.65" y="90.95" width="1.5" height="1.25"/><rect x="365.92" y="90.95" width="1.5" height="1.25"/><rect x="375.19" y="90.95" width="1.5" height="1.25"/><rect x="384.46" y="90.95" width="1.5" height="1.25"/><rect x="393.73" y="90.95" width="1.5" height="1.25"/><rect x="403.00" y="90.95" width="1.5" height="1.25"/><rect x="412.27" y="90.95" width="1.5" height="1.25"/><rect x="421.54" y="90.95" width="1.5" height="1.25"/><rect x="430.81" y="90.95" width="1.5" height="1.25"/><rect x="440.08" y="90.95" width="1.5" height="1.25"/><rect x="449.35" y="90.95" width="1.5" height="1.25"/><rect x="458.62" y="90.95" width="1.5" height="1.25"/><rect x="78.55" y="100.22" width="1.5" height="1.25"/><rect x="87.82" y="100.22" width="1.5" height="1.25"/><rect x="97.09" y="100.22" width="1.5" height="1.25"/><rect x="106.36" y="100.22" width="1.5" height="1.25"/><rect x="115.63" y="100.22" width="1.5" height="1.25"/><rect x="124.90" y="100.22" width="1.5" height="1.25"/><rect x="134.17" y="100.22" width="1.5" height="1.25"/><rect x="143.44" y="100.22" width="1.5" height="1.25"/><rect x="152.71" y="100.22" width="1.5" height="1.25"/><rect x="161.98" y="100.22" width="1.5" height="1.25"/><rect x="171.25" y="100.22" width="1.5" height="1.25"/><rect x="180.52" y="100.22" width="1.5" height="1.25"/><rect x="189.79" y="100.22" width="1.5" height="1.25"/><rect x="199.06" y="100.22" width="1.5" height="1.25"/><rect x="208.33" y="100.22" width="1.5" height="1.25"/><rect x="217.60" y="100.22" width="1.5" height="1.25"/><rect x="226.87" y="100.22" width="1.5" height="1.25"/><rect x="236.14" y="100.22" width="1.5" height="1.25"/><rect x="245.41" y="100.22" width="1.5" height="1.25"/><rect x="254.68" y="100.22" width="1.5" height="1.25"/><rect x="263.95" y="100.22" width="1.5" height="1.25"/><rect x="273.22" y="100.22" width="1.5" height="1.25"/><rect x="282.49" y="100.22" width="1.5" height="1.25"/><rect x="291.76" y="100.22" width="1.5" height="1.25"/><rect x="301.03" y="100.22" width="1.5" height="1.25"/><rect x="310.30" y="100.22" width="1.5" height="1.25"/><rect x="319.57" y="100.22" width="1.5" height="1.25"/><rect x="328.84" y="100.22" width="1.5" height="1.25"/><rect x="338.11" y="100.22" width="1.5" height="1.25"/><rect x="347.38" y="100.22" width="1.5" height="1.25"/><rect x="356.65" y="100.22" width="1.5" height="1.25"/><rect x="365.92" y="100.22" width="1.5" height="1.25"/><rect x="375.19" y="100.22" width="1.5" height="1.25"/><rect x="384.46" y="100.22" width="1.5" height="1.25"/><rect x="393.73" y="100.22" width="1.5" height="1.25"/><rect x="403.00" y="100.22" width="1.5" height="1.25"/><rect x="412.27" y="100.22" width="1.5" height="1.25"/><rect x="421.54" y="100.22" width="1.5" height="1.25"/><rect x="430.81" y="100.22" width="1.5" height="1.25"/><rect x="440.08" y="100.22" width="1.5" height="1.25"/><rect x="449.35" y="100.22" width="1.5" height="1.25"/><rect x="458.62" y="100.22" width="1.5" height="1.25"/><rect x="78.55" y="109.49" width="1.5" height="1.25"/><rect x="87.82" y="109.49" width="1.5" height="1.25"/><rect x="97.09" y="109.49" width="1.5" height="1.25"/><rect x="106.36" y="109.49" width="1.5" height="1.25"/><rect x="115.63" y="109.49" width="1.5" height="1.25"/><rect x="124.90" y="109.49" width="1.5" height="1.25"/><rect x="134.17" y="109.49" width="1.5" height="1.25"/><rect x="143.44" y="109.49" width="1.5" height="1.25"/><rect x="152.71" y="109.49" width="1.5" height="1.25"/><rect x="161.98" y="109.49" width="1.5" height="1.25"/><rect x="171.25" y="109.49" width="1.5" height="1.25"/><rect x="180.52" y="109.49" width="1.5" height="1.25"/><rect x="189.79" y="109.49" width="1.5" height="1.25"/><rect x="199.06" y="109.49" width="1.5" height="1.25"/><rect x="208.33" y="109.49" width="1.5" height="1.25"/><rect x="217.60" y="109.49" width="1.5" height="1.25"/><rect x="226.87" y="109.49" width="1.5" height="1.25"/><rect x="236.14" y="109.49" width="1.5" height="1.25"/><rect x="245.41" y="109.49" width="1.5" height="1.25"/><rect x="254.68" y="109.49" width="1.5" height="1.25"/><rect x="263.95" y="109.49" width="1.5" height="1.25"/><rect x="273.22" y="109.49" width="1.5" height="1.25"/><rect x="282.49" y="109.49" width="1.5" height="1.25"/><rect x="291.76" y="109.49" width="1.5" height="1.25"/><rect x="301.03" y="109.49" width="1.5" height="1.25"/><rect x="310.30" y="109.49" width="1.5" height="1.25"/><rect x="319.57" y="109.49" width="1.5" height="1.25"/><rect x="328.84" y="109.49" width="1.5" height="1.25"/><rect x="338.11" y="109.49" width="1.5" height="1.25"/><rect x="347.38" y="109.49" width="1.5" height="1.25"/><rect x="356.65" y="109.49" width="1.5" height="1.25"/><rect x="365.92" y="109.49" width="1.5" height="1.25"/><rect x="375.19" y="109.49" width="1.5" height="1.25"/><rect x="384.46" y="109.49" width="1.5" height="1.25"/><rect x="393.73" y="109.49" width="1.5" height="1.25"/><rect x="403.00" y="109.49" width="1.5" height="1.25"/><rect x="412.27" y="109.49" width="1.5" height="1.25"/><rect x="421.54" y="109.49" width="1.5" height="1.25"/><rect x="430.81" y="109.49" width="1.5" height="1.25"/><rect x="440.08" y="109.49" width="1.5" height="1.25"/><rect x="449.35" y="109.49" width="1.5" height="1.25"/><rect x="458.62" y="109.49" width="1.5" height="1.25"/><rect x="78.55" y="118.76" width="1.5" height="1.25"/><rect x="87.82" y="118.76" width="1.5" height="1.25"/><rect x="97.09" y="118.76" width="1.5" height="1.25"/><rect x="106.36" y="118.76" width="1.5" height="1.25"/><rect x="115.63" y="118.76" width="1.5" height="1.25"/><rect x="124.90" y="118.76" width="1.5" height="1.25"/><rect x="134.17" y="118.76" width="1.5" height="1.25"/><rect x="143.44" y="118.76" width="1.5" height="1.25"/><rect x="152.71" y="118.76" width="1.5" height="1.25"/><rect x="161.98" y="118.76" width="1.5" height="1.25"/><rect x="171.25" y="118.76" width="1.5" height="1.25"/><rect x="180.52" y="118.76" width="1.5" height="1.25"/><rect x="189.79" y="118.76" width="1.5" height="1.25"/><rect x="199.06" y="118.76" width="1.5" height="1.25"/><rect x="208.33" y="118.76" width="1.5" height="1.25"/><rect x="217.60" y="118.76" width="1.5" height="1.25"/><rect x="226.87" y="118.76" width="1.5" height="1.25"/><rect x="236.14" y="118.76" width="1.5" height="1.25"/><rect x="245.41" y="118.76" width="1.5" height="1.25"/><rect x="254.68" y="118.76" width="1.5" height="1.25"/><rect x="263.95" y="118.76" width="1.5" height="1.25"/><rect x="273.22" y="118.76" width="1.5" height="1.25"/><rect x="282.49" y="118.76" width="1.5" height="1.25"/><rect x="291.76" y="118.76" width="1.5" height="1.25"/><rect x="301.03" y="118.76" width="1.5" height="1.25"/><rect x="310.30" y="118.76" width="1.5" height="1.25"/><rect x="319.57" y="118.76" width="1.5" height="1.25"/><rect x="328.84" y="118.76" width="1.5" height="1.25"/><rect x="338.11" y="118.76" width="1.5" height="1.25"/><rect x="347.38" y="118.76" width="1.5" height="1.25"/><rect x="356.65" y="118.76" width="1.5" height="1.25"/><rect x="365.92" y="118.76" width="1.5" height="1.25"/><rect x="375.19" y="118.76" width="1.5" height="1.25"/><rect x="384.46" y="118.76" width="1.5" height="1.25"/><rect x="393.73" y="118.76" width="1.5" height="1.25"/><rect x="403.00" y="118.76" width="1.5" height="1.25"/><rect x="412.27" y="118.76" width="1.5" height="1.25"/><rect x="421.54" y="118.76" width="1.5" height="1.25"/><rect x="430.81" y="118.76" width="1.5" height="1.25"/><rect x="440.08" y="118.76" width="1.5" height="1.25"/><rect x="449.35" y="118.76" width="1.5" height="1.25"/><rect x="458.62" y="118.76" width="1.5" height="1.25"/><rect x="78.55" y="128.03" width="1.5" height="1.25"/><rect x="87.82" y="128.03" width="1.5" height="1.25"/><rect x="97.09" y="128.03" width="1.5" height="1.25"/><rect x="106.36" y="128.03" width="1.5" height="1.25"/><rect x="115.63" y="128.03" width="1.5" height="1.25"/><rect x="124.90" y="128.03" width="1.5" height="1.25"/><rect x="134.17" y="128.03" width="1.5" height="1.25"/><rect x="143.44" y="128.03" width="1.5" height="1.25"/><rect x="152.71" y="128.03" width="1.5" height="1.25"/><rect x="161.98" y="128.03" width="1.5" height="1.25"/><rect x="171.25" y="128.03" width="1.5" height="1.25"/><rect x="180.52" y="128.03" width="1.5" height="1.25"/><rect x="189.79" y="128.03" width="1.5" height="1.25"/><rect x="199.06" y="128.03" width="1.5" height="1.25"/><rect x="208.33" y="128.03" width="1.5" height="1.25"/><rect x="217.60" y="128.03" width="1.5" height="1.25"/><rect x="226.87" y="128.03" width="1.5" height="1.25"/><rect x="236.14" y="128.03" width="1.5" height="1.25"/><rect x="245.41" y="128.03" width="1.5" height="1.25"/><rect x="254.68" y="128.03" width="1.5" height="1.25"/><rect x="263.95" y="128.03" width="1.5" height="1.25"/><rect x="273.22" y="128.03" width="1.5" height="1.25"/><rect x="282.49" y="128.03" width="1.5" height="1.25"/><rect x="291.76" y="128.03" width="1.5" height="1.25"/><rect x="301.03" y="128.03" width="1.5" height="1.25"/><rect x="310.30" y="128.03" width="1.5" height="1.25"/><rect x="319.57" y="128.03" width="1.5" height="1.25"/><rect x="328.84" y="128.03" width="1.5" height="1.25"/><rect x="338.11" y="128.03" width="1.5" height="1.25"/><rect x="347.38" y="128.03" width="1.5" height="1.25"/><rect x="356.65" y="128.03" width="1.5" height="1.25"/><rect x="365.92" y="128.03" width="1.5" height="1.25"/><rect x="375.19" y="128.03" width="1.5" height="1.25"/><rect x="384.46" y="128.03" width="1.5" height="1.25"/><rect x="393.73" y="128.03" width="1.5" height="1.25"/><rect x="403.00" y="128.03" width="1.5" height="1.25"/><rect x="412.27" y="128.03" width="1.5" height="1.25"/><rect x="421.54" y="128.03" width="1.5" height="1.25"/><rect x="430.81" y="128.03" width="1.5" height="1.25"/><rect x="440.08" y="128.03" width="1.5" height="1.25"/><rect x="449.35" y="128.03" width="1.5" height="1.25"/><rect x="458.62" y="128.03" width="1.5" height="1.25"/></g>
<g stroke="#000" stroke-width="1.35" fill="none">
<line x1="70.5" y1="76.00" x2="464.0" y2="76.00" stroke-width="1.6"/>
<line x1="70.5" y1="137.90" x2="464.0" y2="137.90" stroke-width="1.6"/>
<line x1="70.5" y1="261.70" x2="464.0" y2="261.70" stroke-width="1.6"/>
<rect x="70.5" y="48.2" width="393.5" height="275.40000000000003"/>
</g>
<path d="M91.21,323.6v-4.5M91.21,48.2v4.5 M111.92,323.6v-2.8M111.92,48.2v2.8 M132.63,323.6v-4.5M132.63,48.2v4.5 M153.34,323.6v-2.8M153.34,48.2v2.8 M174.05,323.6v-4.5M174.05,48.2v4.5 M194.76,323.6v-2.8M194.76,48.2v2.8 M215.47,323.6v-4.5M215.47,48.2v4.5 M236.18,323.6v-2.8M236.18,48.2v2.8 M256.89,323.6v-4.5M256.89,48.2v4.5 M277.61,323.6v-2.8M277.61,48.2v2.8 M298.32,323.6v-4.5M298.32,48.2v4.5 M319.03,323.6v-2.8M319.03,48.2v2.8 M339.74,323.6v-4.5M339.74,48.2v4.5 M360.45,323.6v-2.8M360.45,48.2v2.8 M381.16,323.6v-4.5M381.16,48.2v4.5 M401.87,323.6v-2.8M401.87,48.2v2.8 M422.58,323.6v-4.5M422.58,48.2v4.5 M443.29,323.6v-2.8M443.29,48.2v2.8 M70.5,323.60h4.8M464.0,323.60h-4.8 M70.5,314.28h3.0M464.0,314.28h-3.0 M70.5,308.83h3.0M464.0,308.83h-3.0 M70.5,304.97h3.0M464.0,304.97h-3.0 M70.5,301.97h3.0M464.0,301.97h-3.0 M70.5,299.52h3.0M464.0,299.52h-3.0 M70.5,297.44h3.0M464.0,297.44h-3.0 M70.5,295.65h3.0M464.0,295.65h-3.0 M70.5,294.07h3.0M464.0,294.07h-3.0 M70.5,292.65h4.8M464.0,292.65h-4.8 M70.5,283.33h3.0M464.0,283.33h-3.0 M70.5,277.88h3.0M464.0,277.88h-3.0 M70.5,274.02h3.0M464.0,274.02h-3.0 M70.5,271.02h3.0M464.0,271.02h-3.0 M70.5,268.57h3.0M464.0,268.57h-3.0 M70.5,266.49h3.0M464.0,266.49h-3.0 M70.5,264.70h3.0M464.0,264.70h-3.0 M70.5,263.12h3.0M464.0,263.12h-3.0 M70.5,261.70h4.8M464.0,261.70h-4.8 M70.5,252.38h3.0M464.0,252.38h-3.0 M70.5,246.93h3.0M464.0,246.93h-3.0 M70.5,243.07h3.0M464.0,243.07h-3.0 M70.5,240.07h3.0M464.0,240.07h-3.0 M70.5,237.62h3.0M464.0,237.62h-3.0 M70.5,235.54h3.0M464.0,235.54h-3.0 M70.5,233.75h3.0M464.0,233.75h-3.0 M70.5,232.17h3.0M464.0,232.17h-3.0 M70.5,230.75h4.8M464.0,230.75h-4.8 M70.5,221.43h3.0M464.0,221.43h-3.0 M70.5,215.98h3.0M464.0,215.98h-3.0 M70.5,212.12h3.0M464.0,212.12h-3.0 M70.5,209.12h3.0M464.0,209.12h-3.0 M70.5,206.67h3.0M464.0,206.67h-3.0 M70.5,204.59h3.0M464.0,204.59h-3.0 M70.5,202.80h3.0M464.0,202.80h-3.0 M70.5,201.22h3.0M464.0,201.22h-3.0 M70.5,199.80h4.8M464.0,199.80h-4.8 M70.5,190.48h3.0M464.0,190.48h-3.0 M70.5,185.03h3.0M464.0,185.03h-3.0 M70.5,181.17h3.0M464.0,181.17h-3.0 M70.5,178.17h3.0M464.0,178.17h-3.0 M70.5,175.72h3.0M464.0,175.72h-3.0 M70.5,173.64h3.0M464.0,173.64h-3.0 M70.5,171.85h3.0M464.0,171.85h-3.0 M70.5,170.27h3.0M464.0,170.27h-3.0 M70.5,168.85h4.8M464.0,168.85h-4.8 M70.5,159.53h3.0M464.0,159.53h-3.0 M70.5,154.08h3.0M464.0,154.08h-3.0 M70.5,150.22h3.0M464.0,150.22h-3.0 M70.5,147.22h3.0M464.0,147.22h-3.0 M70.5,144.77h3.0M464.0,144.77h-3.0 M70.5,142.69h3.0M464.0,142.69h-3.0 M70.5,140.90h3.0M464.0,140.90h-3.0 M70.5,139.32h3.0M464.0,139.32h-3.0 M70.5,137.90h4.8M464.0,137.90h-4.8 M70.5,128.58h3.0M464.0,128.58h-3.0 M70.5,123.13h3.0M464.0,123.13h-3.0 M70.5,119.27h3.0M464.0,119.27h-3.0 M70.5,116.27h3.0M464.0,116.27h-3.0 M70.5,113.82h3.0M464.0,113.82h-3.0 M70.5,111.74h3.0M464.0,111.74h-3.0 M70.5,109.95h3.0M464.0,109.95h-3.0 M70.5,108.37h3.0M464.0,108.37h-3.0 M70.5,106.95h4.8M464.0,106.95h-4.8 M70.5,97.63h3.0M464.0,97.63h-3.0 M70.5,92.18h3.0M464.0,92.18h-3.0 M70.5,88.32h3.0M464.0,88.32h-3.0 M70.5,85.32h3.0M464.0,85.32h-3.0 M70.5,82.87h3.0M464.0,82.87h-3.0 M70.5,80.79h3.0M464.0,80.79h-3.0 M70.5,79.00h3.0M464.0,79.00h-3.0 M70.5,77.42h3.0M464.0,77.42h-3.0 M70.5,76.00h4.8M464.0,76.00h-4.8 M70.5,66.68h3.0M464.0,66.68h-3.0 M70.5,61.23h3.0M464.0,61.23h-3.0 M70.5,57.37h3.0M464.0,57.37h-3.0 M70.5,54.37h3.0M464.0,54.37h-3.0 M70.5,51.92h3.0M464.0,51.92h-3.0 M70.5,49.84h3.0M464.0,49.84h-3.0" stroke="#000" stroke-width="1.2" fill="none"/>
<g class="t"><g stroke="#000" stroke-width="0.3">
<text x="89.8" y="338.2" font-size="11.6" text-anchor="middle" textLength="15" lengthAdjust="spacingAndGlyphs">0.2</text>
<text x="131.2" y="338.2" font-size="11.6" text-anchor="middle" textLength="15" lengthAdjust="spacingAndGlyphs">0.4</text>
<text x="172.7" y="338.2" font-size="11.6" text-anchor="middle" textLength="15" lengthAdjust="spacingAndGlyphs">0.6</text>
<text x="214.1" y="338.2" font-size="11.6" text-anchor="middle" textLength="15" lengthAdjust="spacingAndGlyphs">0.8</text>
<text x="255.5" y="338.2" font-size="11.6" text-anchor="middle" textLength="15" lengthAdjust="spacingAndGlyphs">1.0</text>
<text x="296.9" y="338.2" font-size="11.6" text-anchor="middle" textLength="15" lengthAdjust="spacingAndGlyphs">1.2</text>
<text x="338.3" y="338.2" font-size="11.6" text-anchor="middle" textLength="15" lengthAdjust="spacingAndGlyphs">1.4</text>
<text x="379.8" y="338.2" font-size="11.6" text-anchor="middle" textLength="15" lengthAdjust="spacingAndGlyphs">1.6</text>
<text x="421.2" y="338.2" font-size="11.6" text-anchor="middle" textLength="15" lengthAdjust="spacingAndGlyphs">1.8</text>
<text x="462.6" y="338.2" font-size="11.6" text-anchor="middle" textLength="15" lengthAdjust="spacingAndGlyphs">2.0</text>
<text x="56.7" y="328.6" font-size="11.6" text-anchor="end" textLength="9.6" lengthAdjust="spacingAndGlyphs">10</text><text x="61.3" y="325.1" font-size="8.8" textLength="4.2" lengthAdjust="spacingAndGlyphs">5</text><rect x="57.9" y="321.9" width="3.3" height="1.0" stroke="none"/>
<text x="56.7" y="297.7" font-size="11.6" text-anchor="end" textLength="9.6" lengthAdjust="spacingAndGlyphs">10</text><text x="61.3" y="294.2" font-size="8.8" textLength="4.2" lengthAdjust="spacingAndGlyphs">4</text><rect x="57.9" y="291.0" width="3.3" height="1.0" stroke="none"/>
<text x="56.7" y="266.7" font-size="11.6" text-anchor="end" textLength="9.6" lengthAdjust="spacingAndGlyphs">10</text><text x="61.3" y="263.2" font-size="8.8" textLength="4.2" lengthAdjust="spacingAndGlyphs">3</text><rect x="57.9" y="260.0" width="3.3" height="1.0" stroke="none"/>
<text x="56.7" y="235.8" font-size="11.6" text-anchor="end" textLength="9.6" lengthAdjust="spacingAndGlyphs">10</text><text x="61.3" y="232.2" font-size="8.8" textLength="4.2" lengthAdjust="spacingAndGlyphs">2</text><rect x="57.9" y="229.1" width="3.3" height="1.0" stroke="none"/>
<text x="57.9" y="204.8" font-size="11.6" text-anchor="end" textLength="9.6" lengthAdjust="spacingAndGlyphs">10</text><text x="61.9" y="201.3" font-size="8.8">1</text><rect x="59.1" y="198.1" width="3.3" height="1.0" stroke="none"/>
<text x="61.0" y="173.9" font-size="11.6" text-anchor="end" textLength="9.6" lengthAdjust="spacingAndGlyphs">10</text><text x="61.3" y="170.4" font-size="8.8" textLength="4.2" lengthAdjust="spacingAndGlyphs">0</text>
<text x="62.2" y="142.9" font-size="11.6" text-anchor="end" textLength="9.6" lengthAdjust="spacingAndGlyphs">10</text><text x="61.9" y="139.4" font-size="8.8">1</text>
<text x="61.0" y="112.0" font-size="11.6" text-anchor="end" textLength="9.6" lengthAdjust="spacingAndGlyphs">10</text><text x="61.3" y="108.5" font-size="8.8" textLength="4.2" lengthAdjust="spacingAndGlyphs">2</text>
<text x="61.0" y="81.0" font-size="11.6" text-anchor="end" textLength="9.6" lengthAdjust="spacingAndGlyphs">10</text><text x="61.3" y="77.5" font-size="8.8" textLength="4.2" lengthAdjust="spacingAndGlyphs">3</text>
</g>
<g font-size="15.4">
<text x="196.85" y="356.7" textLength="42.8" lengthAdjust="spacingAndGlyphs">decay</text>
<text x="249.15" y="356.7" textLength="46.5" lengthAdjust="spacingAndGlyphs">energy</text>
<text x="305.85" y="356.7" textLength="39.1" lengthAdjust="spacingAndGlyphs">(MeV)</text>
<g transform="translate(42.7,0) rotate(-90)">
<text x="-259.9" y="0" textLength="43.1" lengthAdjust="spacingAndGlyphs">tunnel</text>
<text x="-206.9" y="0" textLength="28.6" lengthAdjust="spacingAndGlyphs">half</text>
<text x="-177.3" y="0" textLength="8.2" lengthAdjust="spacingAndGlyphs">-</text>
<text x="-169.2" y="0" textLength="24.3" lengthAdjust="spacingAndGlyphs">life</text>
<text x="-136.4" y="0" textLength="31.75" lengthAdjust="spacingAndGlyphs">(ms)</text>
</g></g>
<g font-size="12.8" font-weight="bold" stroke="#000" stroke-width="0.5"><text x="414.0" y="152.2" textLength="7.5" lengthAdjust="spacingAndGlyphs">Z</text><rect x="428" y="145.5" width="7" height="1.85"/><rect x="428" y="147.8" width="7" height="1.85"/><text x="441.6" y="152.2" textLength="10.8" lengthAdjust="spacingAndGlyphs">19</text></g>
<g font-size="12.8" font-weight="bold" stroke="#000" stroke-width="0.5"><text x="414.0" y="170.0" textLength="7.5" lengthAdjust="spacingAndGlyphs">Z</text><rect x="428" y="163.3" width="7" height="1.85"/><rect x="428" y="165.6" width="7" height="1.85"/><text x="441.6" y="170.0" textLength="10.8" lengthAdjust="spacingAndGlyphs">31</text></g>
<g font-size="12.8" font-weight="bold" stroke="#000" stroke-width="0.5"><text x="414.0" y="187.8" textLength="7.5" lengthAdjust="spacingAndGlyphs">Z</text><rect x="428" y="181.1" width="7" height="1.85"/><rect x="428" y="183.4" width="7" height="1.85"/><text x="441.6" y="187.8" textLength="10.8" lengthAdjust="spacingAndGlyphs">43</text></g>
<g font-size="12.8" font-weight="bold" stroke="#000" stroke-width="0.5"><text x="414.0" y="205.5" textLength="7.5" lengthAdjust="spacingAndGlyphs">Z</text><rect x="428" y="198.8" width="7" height="1.85"/><rect x="428" y="201.1" width="7" height="1.85"/><text x="441.6" y="205.5" textLength="10.8" lengthAdjust="spacingAndGlyphs">55</text></g>
<g font-size="12.8" font-weight="bold" stroke="#000" stroke-width="0.5"><text x="414.0" y="223.3" textLength="7.5" lengthAdjust="spacingAndGlyphs">Z</text><rect x="428" y="216.6" width="7" height="1.85"/><rect x="428" y="218.9" width="7" height="1.85"/><text x="441.6" y="223.3" textLength="10.8" lengthAdjust="spacingAndGlyphs">67</text></g>
<g font-size="12.8" font-weight="bold" stroke="#000" stroke-width="0.5"><text x="414.0" y="241.1" textLength="7.5" lengthAdjust="spacingAndGlyphs">Z</text><rect x="428" y="234.4" width="7" height="1.85"/><rect x="428" y="236.7" width="7" height="1.85"/><text x="441.6" y="241.1" textLength="10.8" lengthAdjust="spacingAndGlyphs">79</text></g>
</g>
<line x1="390.4" y1="146.2" x2="411.6" y2="146.2" stroke="#ff0000" stroke-width="2.4"/><circle cx="391.3" cy="163.9" r="1.15" fill="#00ffff"/><circle cx="396.2" cy="163.9" r="1.15" fill="#00ffff"/><circle cx="401.2" cy="163.9" r="1.15" fill="#00ffff"/><circle cx="406.2" cy="163.9" r="1.15" fill="#00ffff"/><path d="M391.4,181.6H399.4M408,181.6H411" stroke="#0000ff" stroke-width="2.4" stroke-linecap="round"/><path d="M391.4,199.4H399.4" stroke="#ff00ff" stroke-width="2.4" stroke-linecap="round"/><circle cx="411" cy="199.4" r="1.2" fill="#ff00ff"/><line x1="390.4" y1="217.1" x2="411.6" y2="217.1" stroke="#00ff00" stroke-width="2.4"/><circle cx="391.3" cy="234.8" r="1.15" fill="#ff0000"/><circle cx="396.2" cy="234.8" r="1.15" fill="#ff0000"/><circle cx="401.2" cy="234.8" r="1.15" fill="#ff0000"/><circle cx="406.2" cy="234.8" r="1.15" fill="#ff0000"/>
</svg></body></html>
